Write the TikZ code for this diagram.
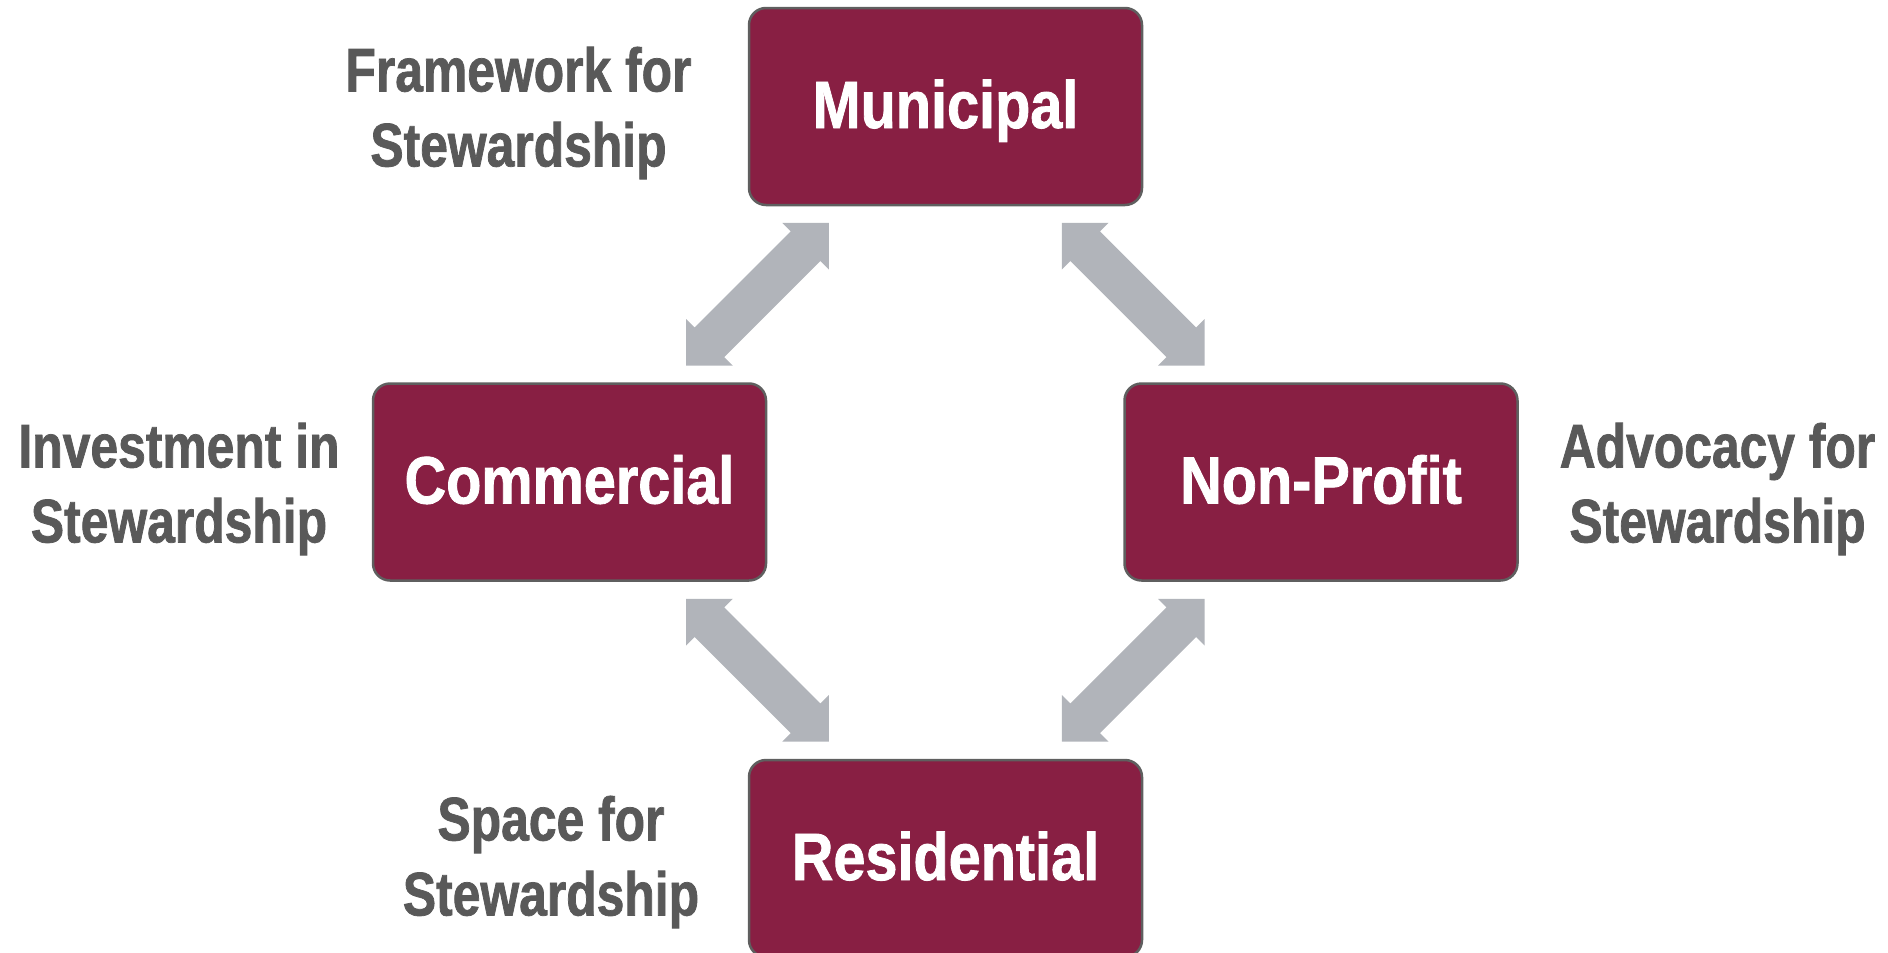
\documentclass[tikz,border=0pt]{standalone}
\usepackage{fontspec}
\newfontfamily\boxfont[FakeStretch=0.86,FakeBold=1.2]{Liberation Sans}
\newfontfamily\labfont[FakeStretch=0.81,FakeBold=1.2]{Liberation Sans}
\usetikzlibrary{calc}
\definecolor{boxfill}{HTML}{881F43}
\definecolor{boxline}{HTML}{5F5F5F}
\definecolor{arrowgray}{HTML}{B1B4BA}
\definecolor{labgray}{HTML}{595959}
\tikzset{
  stake/.style={rectangle, rounded corners=17pt, minimum width=393pt, minimum height=197pt,
    fill=boxfill, draw=boxline, line width=2.5pt, text=white,
    font=\boxfont\bfseries\fontsize{67}{80}\selectfont, text height=43pt, text depth=0pt, inner sep=0pt},
  role/.style={align=center, text=labgray, font=\labfont\bfseries\fontsize{61.5}{75}\selectfont, inner sep=0pt},
  linkarrow/.style={fill=arrowgray}
}
\newcommand{\blockarrow}[3]{%
  \begin{scope}[shift={($(#1)!0.5!(#2)$)}, rotate=#3]
    \fill[linkarrow] (101,0) -- (68,33) -- (68,21) -- (-68,21) -- (-68,33) -- (-101,0)
      -- (-68,-33) -- (-68,-21) -- (68,-21) -- (68,-33) -- cycle;
  \end{scope}}
\begin{document}
\begin{tikzpicture}[x=1pt,y=1pt]
  \useasboundingbox (0,0) rectangle (1888,-953);
  \clip (0,0) rectangle (1888,-953);
  \node[stake] (mun) at (945.5,-106.5) {Municipal};
  \node[stake] (com) at (569.5,-482) {Commercial};
  \node[stake] (np)  at (1321,-482) {Non-Profit};
  \node[stake] (res) at (945.5,-858.5) {Residential};
  \node[role] (lmun) at (518.5,-113) {Framework for\\Stewardship};
  \node[role] (lcom) at (179,-489) {Investment in\\Stewardship};
  \node[role] (lnp)  at (1717.5,-489) {Advocacy for\\Stewardship};
  \node[role] (lres) at (551,-862) {Space for\\Stewardship};
  \blockarrow{mun.south west}{com.north east}{45}
  \blockarrow{mun.south east}{np.north west}{-45}
  \blockarrow{com.south east}{res.north west}{-45}
  \blockarrow{np.south west}{res.north east}{45}
\end{tikzpicture}
\end{document}
